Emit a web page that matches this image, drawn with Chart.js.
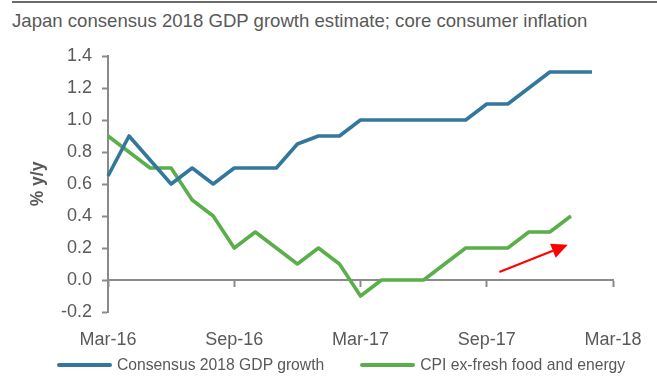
<!DOCTYPE html>
<html>
<head>
<meta charset="utf-8">
<script src="https://cdn.jsdelivr.net/npm/chart.js@4/dist/chart.umd.min.js"></script>
<style>
  html, body { margin: 0; padding: 0; background: #fff; }
  body { width: 657px; height: 378px; position: relative; overflow: hidden;
         font-family: "Liberation Sans", Arial, sans-serif; color: #595959; }
  #rule { position: absolute; left: 12px; top: 1px; width: 645px; height: 2px; background: #6a6a6a; }
  #title { position: absolute; left: 12px; top: 12px; font-size: 18.6px; line-height: 1; white-space: nowrap; }
  #chart { position: absolute; left: 0; top: 0; }
  #legend { position: absolute; left: 57px; top: 355px; height: 20px; display: flex; gap: 36px; }
  .item { display: flex; align-items: center; font-size: 15.7px; white-space: nowrap; }
  .swatch { width: 55px; height: 4px; margin-right: 5px; border-radius: 2px; }
</style>
</head>
<body>
<div id="rule"></div>
<div id="title">Japan consensus 2018 GDP growth estimate; core consumer inflation</div>
<canvas id="chart" width="657" height="378"></canvas>
<div id="legend"></div>
<script>
// monthly categories, Mar-16 .. Mar-18
const months = [
  "Mar-16", "Apr-16", "May-16", "Jun-16", "Jul-16", "Aug-16", "Sep-16", "Oct-16", "Nov-16",
  "Dec-16", "Jan-17", "Feb-17", "Mar-17", "Apr-17", "May-17", "Jun-17", "Jul-17", "Aug-17",
  "Sep-17", "Oct-17", "Nov-17", "Dec-17", "Jan-18", "Feb-18", "Mar-18",
];
const tickLabels = ["Mar-16", "Sep-16", "Mar-17", "Sep-17", "Mar-18"];

const gdpConsensus = [
  0.65, 0.9, 0.75, 0.6, 0.7, 0.6, 0.7, 0.7, 0.7, 0.85, 0.9, 0.9,
  1.0, 1.0, 1.0, 1.0, 1.0, 1.0, 1.1, 1.1, 1.2, 1.3, 1.3, 1.3,
];
const coreCpi = [
  0.9, 0.8, 0.7, 0.7, 0.5, 0.4, 0.2, 0.3, 0.2, 0.1, 0.2, 0.1,
  -0.1, 0.0, 0.0, 0.0, 0.1, 0.2, 0.2, 0.2, 0.3, 0.3, 0.4,
];

const seriesNames = ["Consensus 2018 GDP growth", "CPI ex-fresh food and energy"];
const seriesColors = ["#33789c", "#5aaf4b"];

// red trend arrow, in (month index, % y/y)
const arrow = { from: [18.6, 0.05], to: [21.85, 0.22] };

const axisColor = "#8a8a8a";
const textColor = "#595959";

const arrowPlugin = {
  id: "trendArrow",
  afterDatasetsDraw(chart) {
    const { ctx, scales: { x, y } } = chart;
    const x1 = x.getPixelForValue(arrow.from[0]);
    const y1 = y.getPixelForValue(arrow.from[1]);
    const x2 = x.getPixelForValue(arrow.to[0]);
    const y2 = y.getPixelForValue(arrow.to[1]);
    const ang = Math.atan2(y2 - y1, x2 - x1);
    const headLen = 16, headHalf = 7.5;
    const bx = x2 - headLen * Math.cos(ang);
    const by = y2 - headLen * Math.sin(ang);
    ctx.save();
    ctx.strokeStyle = "#ff0000";
    ctx.fillStyle = "#ff0000";
    ctx.lineWidth = 2;
    ctx.beginPath();
    ctx.moveTo(x1, y1);
    ctx.lineTo(bx, by);
    ctx.stroke();
    ctx.beginPath();
    ctx.moveTo(x2, y2);
    ctx.lineTo(bx + headHalf * Math.sin(ang), by - headHalf * Math.cos(ang));
    ctx.lineTo(bx - headHalf * Math.sin(ang), by + headHalf * Math.cos(ang));
    ctx.closePath();
    ctx.fill();
    ctx.restore();
  },
};

const series = [gdpConsensus, coreCpi];

new Chart("chart", {
  type: "line",
  data: {
    labels: months,
    datasets: series.map((values, i) => ({
      label: seriesNames[i],
      data: values,
      borderColor: seriesColors[i],
      backgroundColor: seriesColors[i],
      borderWidth: 3.6,
      borderJoinStyle: "round",
      pointRadius: 0,
      tension: 0,
      xAxisID: "x",
      yAxisID: "y",
    })),
  },
  options: {
    responsive: false,
    animation: false,
    devicePixelRatio: 1,
    layout: { padding: { top: 56, left: 24, right: 44, bottom: 0 } },
    plugins: {
      legend: { display: false },
      tooltip: { enabled: false },
    },
    scales: {
      x: {
        type: "category",
        position: "bottom",
        offset: false,
        grid: { display: false },
        border: { display: false },
        ticks: {
          autoSkip: false,
          maxRotation: 0,
          padding: 9,
          color: textColor,
          font: { family: "Liberation Sans", size: 18 },
          callback(value, index) {
            const label = months[index];
            return tickLabels.includes(label) ? label : null;
          },
        },
        afterFit(scale) {
          scale.height = 66;
        },
      },
      // zero line with month ticks
      x0: {
        type: "category",
        position: { y: 0 },
        offset: false,
        ticks: { display: false, autoSkip: false },
        grid: {
          drawOnChartArea: false,
          drawTicks: true,
          tickLength: 6,
          tickWidth: 2,
          tickColor: (c) => (tickLabels.includes(months[c.index]) ? axisColor : "rgba(0,0,0,0)"),
        },
        border: { display: true, color: axisColor, width: 2 },
      },
      y: {
        min: -0.2,
        max: 1.4,
        position: "left",
        ticks: {
          stepSize: 0.2,
          padding: 10,
          color: textColor,
          font: { family: "Liberation Sans", size: 18 },
          callback: (v) => (Math.abs(v) < 1e-9 ? 0 : v).toFixed(1),
        },
        grid: {
          drawOnChartArea: false,
          drawTicks: true,
          tickLength: 6,
          tickWidth: 2,
          tickColor: axisColor,
        },
        border: { display: true, color: axisColor, width: 2 },
        title: {
          display: true,
          text: "% y/y",
          color: textColor,
          font: { family: "Liberation Sans", size: 17.5, weight: "bold" },
          padding: { top: 4, bottom: 11 },
        },
        afterFit(scale) {
          scale.width = 84;
        },
      },
    },
  },
  plugins: [arrowPlugin],
});

// legend
const legend = document.getElementById("legend");
seriesNames.forEach((name, i) => {
  const item = document.createElement("div");
  item.className = "item";
  const sw = document.createElement("span");
  sw.className = "swatch";
  sw.style.background = seriesColors[i];
  const txt = document.createElement("span");
  txt.textContent = name;
  item.appendChild(sw);
  item.appendChild(txt);
  legend.appendChild(item);
});
</script>
</body>
</html>
